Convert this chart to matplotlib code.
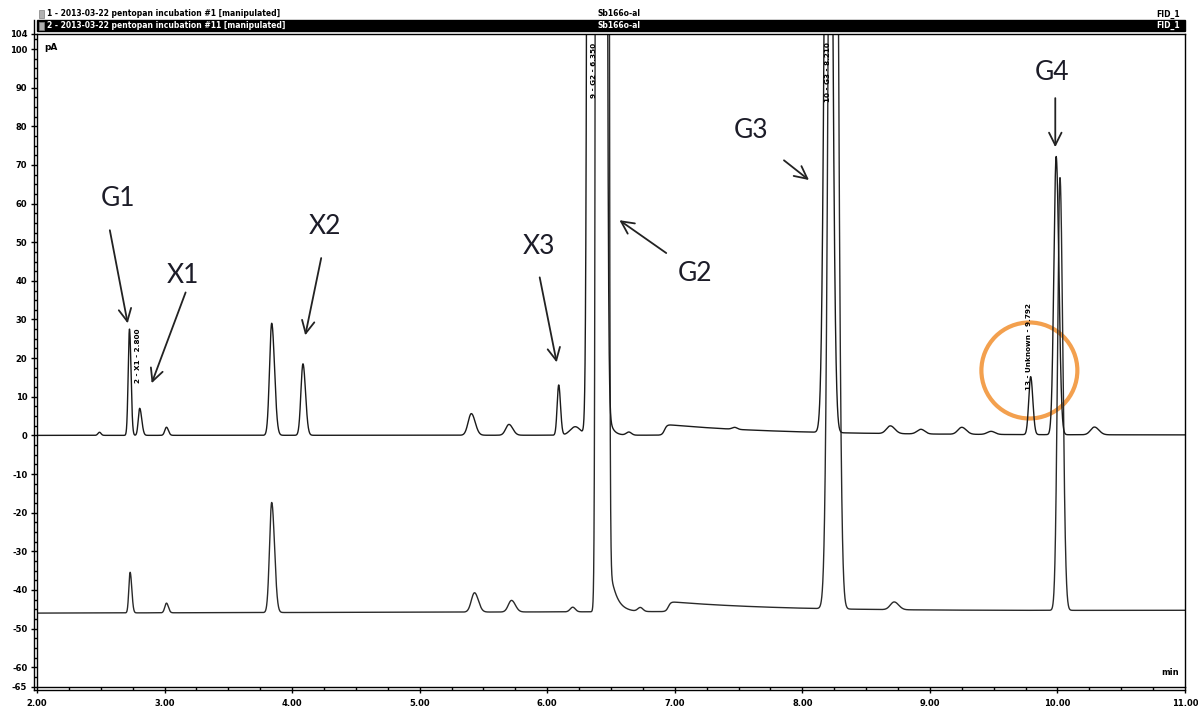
import numpy as np
import matplotlib
matplotlib.use("Agg")
import matplotlib.pyplot as plt
from matplotlib.patches import Ellipse, Rectangle
from matplotlib.lines import Line2D

W, H = 1198, 707

# ---------------- axes ----------------
x_min, x_max = 2.0, 11.0
y_min, y_max = -65, 104
x_ticks = [2, 3, 4, 5, 6, 7, 8, 9, 10, 11]
x_tick_labels = ["2.00", "3.00", "4.00", "5.00", "6.00", "7.00", "8.00", "9.00", "10.00", "11.00"]
y_ticks = [104, 100, 90, 80, 70, 60, 50, 40, 30, 20, 10, 0, -10, -20, -30, -40, -50, -60, -65]
y_tick_labels = ["104", "100", "90", "80", "70", "60", "50", "40", "30", "20", "10", "0",
                 "-10", "-20", "-30", "-40", "-50", "-60", "-65"]

# ---------------- trace 1 (upper) : peak table ----------------
t1_rt   = [2.49, 2.725, 2.805, 3.015, 3.84, 4.085, 5.405, 5.70, 6.09, 6.22, 6.39, 6.64, 7.47,
           8.205, 8.69, 8.93, 9.25, 9.48, 9.79, 9.99, 10.29]
t1_h    = [0.8, 27.5, 7.0, 2.1, 29.0, 18.5, 5.6, 2.8, 13.0, 2.2, 50000, 0.8, 0.5,
           260, 2.0, 1.2, 1.8, 0.8, 15.0, 72.0, 2.0]
t1_sdl  = [0.012, 0.010, 0.011, 0.013, 0.017, 0.016, 0.025, 0.025, 0.012, 0.04, 0.0235, 0.02, 0.02,
           0.026, 0.03, 0.03, 0.03, 0.03, 0.015, 0.018, 0.03]
t1_sdr  = [0.012, 0.012, 0.016, 0.015, 0.022, 0.020, 0.030, 0.030, 0.014, 0.04, 0.024, 0.02, 0.02,
           0.026, 0.035, 0.03, 0.035, 0.03, 0.017, 0.021, 0.035]
t1_base = [0.0, 0.1]                 # baseline at start / end
t1_tail = [6.45, 15.0, 0.03]          # G2 tail: start, height, decay
t1_step = [6.92, 2.8, 0.9]            # baseline step: time, height, decay

# ---------------- trace 2 (lower) : peak table ----------------
t2_rt   = [2.73, 3.015, 3.84, 5.43, 5.72, 6.20, 6.43, 6.73, 8.243, 8.72, 10.02]
t2_h    = [10.5, 2.5, 28.5, 5.0, 3.0, 1.2, 50000, 1.0, 400, 2.0, 112.0]
t2_sdl  = [0.010, 0.013, 0.017, 0.025, 0.025, 0.02, 0.016, 0.02, 0.029, 0.03, 0.019]
t2_sdr  = [0.013, 0.015, 0.022, 0.030, 0.030, 0.02, 0.017, 0.02, 0.029, 0.035, 0.022]
t2_base = [-46.0, -45.3]
t2_tail = [6.49, 12.0, 0.05]
t2_step = [6.95, 2.6, 0.9]

# ---------------- annotations (data coordinates) ----------------
ann_labels = ["G1", "X1", "X2", "X3", "G2", "G3", "G4"]
ann_text_xy = [(2.633, 61.4), (3.142, 41.5), (4.260, 54.1), (5.933, 49.0),
               (7.160, 42.0), (7.598, 79.0), (9.959, 94.0)]
ann_tail_xy = [(2.571, 53.1), (3.165, 37.0), (4.228, 45.9), (5.941, 40.9),
               (6.933, 47.2), (7.856, 71.2), (9.983, 87.3)]
ann_head_xy = [(2.711, 29.0), (2.899, 13.5), (4.103, 25.9), (6.074, 18.9),
               (6.566, 55.7), (8.052, 66.1), (9.983, 74.6)]
circle_center = (9.780, 16.8)

peak_tags = ["2 - X1 - 2.800", "9 - G2 - 6.350", "10 - G3 - 8.210", "13 - Unknown - 9.792"]
peak_tag_xy = [(2.79, 20.5), (6.37, 94.5), (8.205, 94.0), (9.78, 23.0)]

header_left = ["1 - 2013-03-22 pentopan incubation #1 [manipulated]",
               "2 - 2013-03-22 pentopan incubation #11 [manipulated]"]
header_mid = ["Sb166o-al", "Sb166o-al"]
header_right = ["FID_1", "FID_1"]


def trace(x, rt, h, sdl, sdr, base, tail, step):
    y = base[0] + (base[1] - base[0]) * (x - x_min) / (x_max - x_min)
    for r, hh, sl, sr in zip(rt, h, sdl, sdr):
        sd = np.where(x < r, sl, sr)
        y = y + hh * np.exp(-0.5 * ((x - r) / sd) ** 2)
    t0, th, tau = tail
    on = 1.0 / (1.0 + np.exp(-(x - t0) / 0.008))
    y = y + th * on * np.exp(-np.clip(x - t0, 0, None) / tau)
    s0, sh, stau = step
    on = 1.0 / (1.0 + np.exp(-(x - s0) / 0.01))
    y = y + sh * on * np.exp(-np.clip(x - s0, 0, None) / stau)
    return y


x = np.linspace(x_min, x_max, 18001)
y1 = trace(x, t1_rt, t1_h, t1_sdl, t1_sdr, t1_base, t1_tail, t1_step)
y2 = trace(x, t2_rt, t2_h, t2_sdl, t2_sdr, t2_base, t2_tail, t2_step)

fig = plt.figure(figsize=(W / 100, H / 100), dpi=100)
fig.patch.set_facecolor("white")
axl, axr, axt, axb = 37, 1185, 33.6, 686.5
ax = fig.add_axes([axl / W, 1 - axb / H, (axr - axl) / W, (axb - axt) / H])

ax.plot(x, y2, color="#2a2a2a", lw=1.0)
ax.plot(x, y1, color="#1a1a1a", lw=1.0)
ax.set_xlim(x_min, x_max)
ax.set_ylim(y_min, y_max)

ax.set_xticks(x_ticks)
ax.set_xticklabels(x_tick_labels)
ax.set_xticks(np.arange(2, 11.001, 0.25), minor=True)
ax.set_yticks(y_ticks)
ax.set_yticklabels(y_tick_labels)
ax.set_yticks(np.arange(-65, 104.01, 2.5), minor=True)
ax.tick_params(axis="both", which="major", direction="out", length=4, width=1.0,
               labelsize=6, colors="black")
ax.tick_params(axis="both", which="minor", direction="out", length=2.5, width=1.0)
for lab in ax.get_xticklabels() + ax.get_yticklabels():
    lab.set_fontweight("bold")
ax.tick_params(axis="y", pad=3)
ax.tick_params(axis="x", pad=5)
for sp in ["left", "bottom", "right", "top"]:
    ax.spines[sp].set_linewidth(1.0)
    ax.spines[sp].set_color("black")

# double frame lines (left and bottom)
fig.add_artist(Line2D([(axl - 3.5) / W] * 2, [1 - (axb + 3.5) / H, 1 - 20 / H],
                      transform=fig.transFigure, color="black", lw=1.0))
fig.add_artist(Line2D([(axl - 3.5) / W, axr / W], [1 - (axb + 3.5) / H] * 2,
                      transform=fig.transFigure, color="black", lw=1.0))

# header rows
fig.add_artist(Rectangle((axl / W, 1 - 31 / H), (axr - axl) / W, 11 / H,
                         transform=fig.transFigure, facecolor="black", edgecolor="black"))
for i, (yy, col) in enumerate([(14, "black"), (25.5, "white")]):
    fig.add_artist(Rectangle(((axl + 2) / W, 1 - (yy + 4) / H), 5 / W, 8 / H,
                             transform=fig.transFigure, facecolor="#b0b0b0",
                             edgecolor="#808080", lw=0.5))
    fig.text((axl + 10) / W, 1 - yy / H, header_left[i], fontsize=5.5, fontweight="bold",
             color=col, va="center", ha="left")
    fig.text(597 / W, 1 - yy / H, header_mid[i], fontsize=5.5, fontweight="bold",
             color=col, va="center", ha="left")
    fig.text(1180 / W, 1 - yy / H, header_right[i], fontsize=5.5, fontweight="bold",
             color=col, va="center", ha="right")

ax.text(0.006, 0.985, "pA", transform=ax.transAxes, fontsize=6.5, fontweight="bold",
        va="top", ha="left")
ax.text(0.995, 0.015, "min", transform=ax.transAxes, fontsize=6, fontweight="bold",
        va="bottom", ha="right")

# peak tags
for tag, (tx, ty) in zip(peak_tags, peak_tag_xy):
    ax.text(tx, ty, tag, rotation=90, fontsize=5.2, fontweight="bold",
            ha="center", va="center", color="black")

# annotation labels and arrows
for lab, txy, a0, a1 in zip(ann_labels, ann_text_xy, ann_tail_xy, ann_head_xy):
    ax.text(txy[0], txy[1], lab, fontsize=19, family=["Lato", "DejaVu Sans"],
            color="#1c1c28", ha="center", va="center")
    ax.annotate("", xy=a1, xytext=a0,
                arrowprops=dict(arrowstyle="->,head_length=0.9,head_width=0.45",
                                color="#222222", lw=1.3, shrinkA=0, shrinkB=0))

ax.add_patch(Ellipse(circle_center, width=96 / 127.6, height=96 / 3.863, fill=False,
                     edgecolor="#F3A04E", lw=3.0))

fig.savefig("out.png", dpi=100, facecolor="white")
